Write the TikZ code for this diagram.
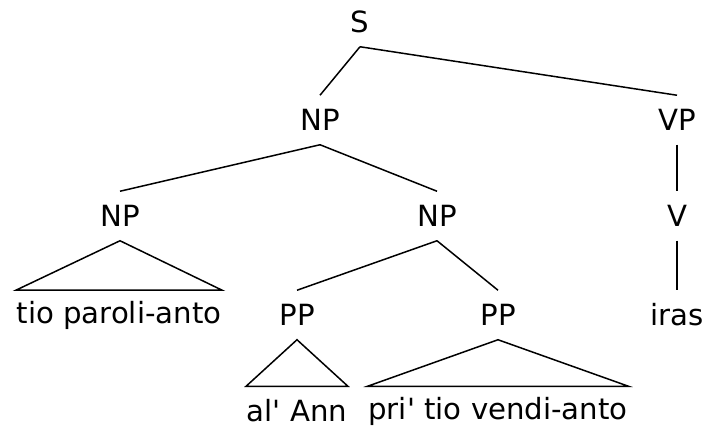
\documentclass[tikz,border=0pt]{standalone}
\usepackage{fontspec}
\newfontfamily\treefont{DejaVu Sans}
\usepackage{tikz}

\begin{document}
\begin{tikzpicture}[x=0.5pt, y=-0.5pt, line width=0.75pt,
    cat/.style={minimum height=24pt, inner ysep=0pt, inner xsep=0pt, font=\treefont\fontsize{14.6}{17}\selectfont},
    leaf/.style={cat}]
    \useasboundingbox (0,0) rectangle (707,427);

    % Define the category labels of the tree
    \node[cat] (S) at (360,22) {S};
    \node[cat] (NPa) at (320,120) {NP};
    \node[cat] (VP) at (677,120) {VP};
    \node[cat] (NPb) at (120,216) {NP};
    \node[cat] (NPc) at (437,216) {NP};
    \node[cat] (V) at (677,216) {V};
    \node[cat] (PPa) at (297,315) {PP};
    \node[cat] (PPb) at (498,315) {PP};

    % Define the words at the bottom
    \node[leaf] (Wa) at (119,315) {tio paroli-anto};
    \node[leaf] (Wb) at (677,315) {iras};
    \node[leaf] (Wc) at (297,411) {al' Ann};
    \node[leaf] (Wd) at (498,411) {pri' tio vendi-anto};

    % Draw the branches
    \foreach \up/\down in {S/NPa, S/VP, NPa/NPb, NPa/NPc, VP/V, NPc/PPa, NPc/PPb, V/Wb}
        \draw (\up.south) -- (\down.north);

    % Draw the triangles over the phrases left unanalysed
    \draw (NPb.south) -- (Wa.north west) -- (Wa.north east) -- cycle;
    \draw (PPa.south) -- (Wc.north west) -- (Wc.north east) -- cycle;
    \draw (PPb.south) -- (Wd.north west) -- (Wd.north east) -- cycle;
\end{tikzpicture}
\end{document}
